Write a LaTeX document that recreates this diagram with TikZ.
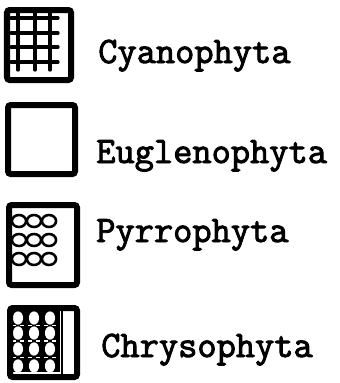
\documentclass[tikz,border=0pt]{standalone}
\usepackage{fontspec}
\newfontfamily\tw{Latin Modern Mono}[FakeBold=2.5]
\begin{document}
\begin{tikzpicture}[x=0.75pt,y=-0.75pt,
  frame/.style={draw=black,line width=4.5pt,rounded corners=2pt},
  lbl/.style={anchor=base west,inner sep=0pt,font=\tw\fontsize{28}{30}\selectfont},
  hatch/.style={line width=2.5pt,line cap=round},
  ring/.style={draw=black,line width=1.9pt}]
\useasboundingbox (0,0) rectangle (340,383);
% box 1 : Cyanophyta
\draw[frame] (7,10) rectangle (71,80);
\foreach \yy in {18,33,47,62} \draw[hatch] (11,\yy) -- (58,\yy);
\foreach \xx in {18,35,50} \draw[hatch] (\xx,13) -- (\xx,70);
\node[lbl] (cy) at (98,63) {Cyanophyta};
% box 2 : Euglenophyta
\draw[frame] (8,105) rectangle (75,174);
\node[lbl] (eu) at (96,163) {Euglenophyta};
% box 3 : Pyrrophyta
\draw[frame] (9,205) rectangle (77,285);
\foreach \yy in {221,240,259} \foreach \xx in {19,34,49}
  \draw[ring] (\xx,\yy) ellipse [x radius=5.3pt, y radius=4.5pt];
\node[lbl] (py) at (96,242) {Pyrrophyta};
% box 4 : Chrysophyta
\fill[black] (11,309) rectangle (60,372);
\foreach \yy in {318,333,349,366} \foreach \xx in {18,34,50}
  \fill[white] (\xx,\yy) ellipse [x radius=3.8pt, y radius=5pt];
\foreach \yy in {325.5,341,357.5}
  \draw[white,line width=1.1pt,dash pattern=on 3pt off 3pt] (12,\yy) -- (59,\yy);
\draw[line width=2.2pt] (62,308) -- (62,375);
\draw[frame] (10,308) rectangle (77,377);
\node[lbl] (ch) at (101,357) {Chrysophyta};
\end{tikzpicture}
\end{document}
